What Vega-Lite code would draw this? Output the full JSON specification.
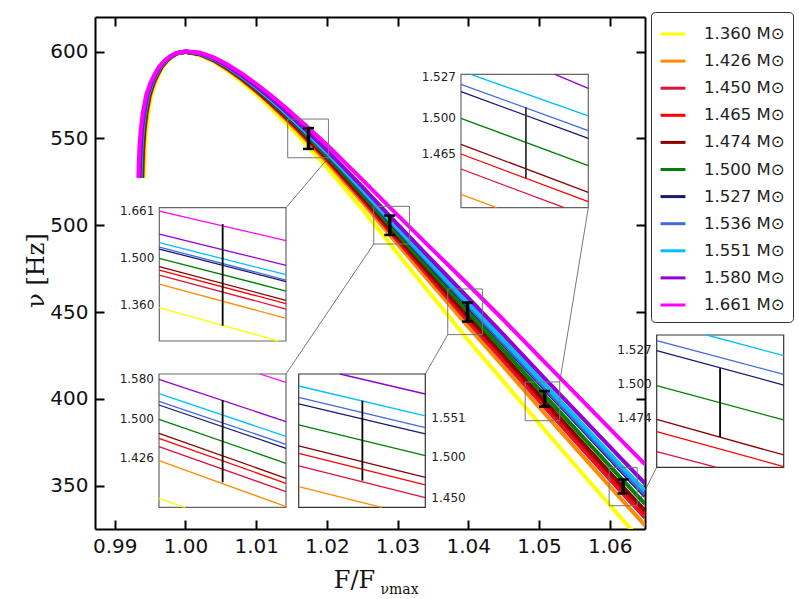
{
"$schema":"https://vega.github.io/schema/vega-lite/v6.json",
"width":550,"height":512,
"autosize":{"type":"none"},
"padding":{"left":95,"top":17,"right":154,"bottom":70},
"background":"white",
"config":{"view":{"stroke":null},"font":"DejaVu Sans",
 "axis":{"grid":false,"domainColor":"black","domainWidth":2,"tickColor":"black","tickWidth":2,"tickSize":-9,"labelFont":"DejaVu Sans","labelFontSize":20,"labelColor":"#111","labelPadding":16,"titleFont":"DejaVu Serif","titleFontWeight":"normal","titleColor":"#111"}},
"datasets":{
"curves":[
{"m":"1.360","x":0.99415,"y":527.4},{"m":"1.360","x":0.9942,"y":535},{"m":"1.360","x":0.99429,"y":545},{"m":"1.360","x":0.99446,"y":555},{"m":"1.360","x":0.99475,"y":565},{"m":"1.360","x":0.99518,"y":575},{"m":"1.360","x":0.99573,"y":582},{"m":"1.360","x":0.99633,"y":587.5},{"m":"1.360","x":0.99686,"y":591.5},{"m":"1.360","x":0.99756,"y":595},{"m":"1.360","x":0.99818,"y":597.3},{"m":"1.360","x":0.99893,"y":599.1},{"m":"1.360","x":1.0,"y":599.75},
{"m":"1.360","x":1.002,"y":598.03},{"m":"1.360","x":1.004,"y":594.22},{"m":"1.360","x":1.006,"y":588.86},{"m":"1.360","x":1.008,"y":582.55},{"m":"1.360","x":1.01,"y":575.54},{"m":"1.360","x":1.012,"y":567.88},{"m":"1.360","x":1.014,"y":559.81},{"m":"1.360","x":1.016,"y":551.3},{"m":"1.360","x":1.018,"y":542.33},{"m":"1.360","x":1.02,"y":533.37},{"m":"1.360","x":1.025,"y":509.33},{"m":"1.360","x":1.0289,"y":489.29},{"m":"1.360","x":1.034,"y":463.74},{"m":"1.360","x":1.0399,"y":434.18},{"m":"1.360","x":1.045,"y":409.89},{"m":"1.360","x":1.0508,"y":382.11},{"m":"1.360","x":1.056,"y":357.58},{"m":"1.360","x":1.0619,"y":330.05},{"m":"1.360","x":1.065,"y":315.78},
{"m":"1.426","x":0.99395,"y":527.4},{"m":"1.426","x":0.994,"y":535},{"m":"1.426","x":0.99409,"y":545},{"m":"1.426","x":0.99426,"y":555},{"m":"1.426","x":0.99456,"y":565},{"m":"1.426","x":0.995,"y":575},{"m":"1.426","x":0.99556,"y":582},{"m":"1.426","x":0.99617,"y":587.5},{"m":"1.426","x":0.99671,"y":591.5},{"m":"1.426","x":0.99743,"y":595},{"m":"1.426","x":0.99809,"y":597.3},{"m":"1.426","x":0.99887,"y":599.1},{"m":"1.426","x":1.0,"y":599.87},
{"m":"1.426","x":1.002,"y":598.4},{"m":"1.426","x":1.004,"y":594.83},{"m":"1.426","x":1.006,"y":589.74},{"m":"1.426","x":1.008,"y":583.72},{"m":"1.426","x":1.01,"y":577.0},{"m":"1.426","x":1.012,"y":569.66},{"m":"1.426","x":1.014,"y":561.91},{"m":"1.426","x":1.016,"y":553.74},{"m":"1.426","x":1.018,"y":545.14},{"m":"1.426","x":1.02,"y":536.54},{"m":"1.426","x":1.025,"y":513.48},{"m":"1.426","x":1.0289,"y":494.41},{"m":"1.426","x":1.034,"y":470.08},{"m":"1.426","x":1.0399,"y":441.99},{"m":"1.426","x":1.045,"y":418.56},{"m":"1.426","x":1.0508,"y":391.63},{"m":"1.426","x":1.056,"y":367.83},{"m":"1.426","x":1.0619,"y":341.03},{"m":"1.426","x":1.065,"y":327.13},
{"m":"1.450","x":0.99387,"y":527.4},{"m":"1.450","x":0.99392,"y":535},{"m":"1.450","x":0.99402,"y":545},{"m":"1.450","x":0.99419,"y":555},{"m":"1.450","x":0.99448,"y":565},{"m":"1.450","x":0.99493,"y":575},{"m":"1.450","x":0.99549,"y":582},{"m":"1.450","x":0.99611,"y":587.5},{"m":"1.450","x":0.99666,"y":591.5},{"m":"1.450","x":0.99739,"y":595},{"m":"1.450","x":0.99805,"y":597.3},{"m":"1.450","x":0.99884,"y":599.1},{"m":"1.450","x":1.0,"y":599.91},
{"m":"1.450","x":1.002,"y":598.54},{"m":"1.450","x":1.004,"y":595.07},{"m":"1.450","x":1.006,"y":590.08},{"m":"1.450","x":1.008,"y":584.17},{"m":"1.450","x":1.01,"y":577.57},{"m":"1.450","x":1.012,"y":570.34},{"m":"1.450","x":1.014,"y":562.72},{"m":"1.450","x":1.016,"y":554.68},{"m":"1.450","x":1.018,"y":546.22},{"m":"1.450","x":1.02,"y":537.76},{"m":"1.450","x":1.025,"y":515.08},{"m":"1.450","x":1.0289,"y":496.39},{"m":"1.450","x":1.034,"y":472.53},{"m":"1.450","x":1.0399,"y":445.0},{"m":"1.450","x":1.045,"y":421.89},{"m":"1.450","x":1.0508,"y":395.29},{"m":"1.450","x":1.056,"y":371.78},{"m":"1.450","x":1.0619,"y":345.26},{"m":"1.450","x":1.065,"y":331.5},
{"m":"1.465","x":0.99383,"y":527.4},{"m":"1.465","x":0.99388,"y":535},{"m":"1.465","x":0.99398,"y":545},{"m":"1.465","x":0.99415,"y":555},{"m":"1.465","x":0.99444,"y":565},{"m":"1.465","x":0.99489,"y":575},{"m":"1.465","x":0.99546,"y":582},{"m":"1.465","x":0.99608,"y":587.5},{"m":"1.465","x":0.99663,"y":591.5},{"m":"1.465","x":0.99736,"y":595},{"m":"1.465","x":0.99803,"y":597.3},{"m":"1.465","x":0.99883,"y":599.1},{"m":"1.465","x":1.0,"y":599.94},
{"m":"1.465","x":1.002,"y":598.62},{"m":"1.465","x":1.004,"y":595.2},{"m":"1.465","x":1.006,"y":590.26},{"m":"1.465","x":1.008,"y":584.42},{"m":"1.465","x":1.01,"y":577.87},{"m":"1.465","x":1.012,"y":570.72},{"m":"1.465","x":1.014,"y":563.16},{"m":"1.465","x":1.016,"y":555.19},{"m":"1.465","x":1.018,"y":546.81},{"m":"1.465","x":1.02,"y":538.43},{"m":"1.465","x":1.025,"y":515.94},{"m":"1.465","x":1.0289,"y":497.46},{"m":"1.465","x":1.034,"y":473.85},{"m":"1.465","x":1.0399,"y":446.63},{"m":"1.465","x":1.045,"y":423.7},{"m":"1.465","x":1.0508,"y":397.28},{"m":"1.465","x":1.056,"y":373.92},{"m":"1.465","x":1.0619,"y":347.55},{"m":"1.465","x":1.065,"y":333.87},
{"m":"1.474","x":0.9938,"y":527.4},{"m":"1.474","x":0.99385,"y":535},{"m":"1.474","x":0.99395,"y":545},{"m":"1.474","x":0.99412,"y":555},{"m":"1.474","x":0.99442,"y":565},{"m":"1.474","x":0.99486,"y":575},{"m":"1.474","x":0.99543,"y":582},{"m":"1.474","x":0.99606,"y":587.5},{"m":"1.474","x":0.99661,"y":591.5},{"m":"1.474","x":0.99734,"y":595},{"m":"1.474","x":0.99801,"y":597.3},{"m":"1.474","x":0.99882,"y":599.1},{"m":"1.474","x":1.0,"y":599.96},
{"m":"1.474","x":1.002,"y":598.67},{"m":"1.474","x":1.004,"y":595.28},{"m":"1.474","x":1.006,"y":590.39},{"m":"1.474","x":1.008,"y":584.59},{"m":"1.474","x":1.01,"y":578.08},{"m":"1.474","x":1.012,"y":570.97},{"m":"1.474","x":1.014,"y":563.46},{"m":"1.474","x":1.016,"y":555.54},{"m":"1.474","x":1.018,"y":547.21},{"m":"1.474","x":1.02,"y":538.88},{"m":"1.474","x":1.025,"y":516.54},{"m":"1.474","x":1.0289,"y":498.19},{"m":"1.474","x":1.034,"y":474.76},{"m":"1.474","x":1.0399,"y":447.75},{"m":"1.474","x":1.045,"y":424.95},{"m":"1.474","x":1.0508,"y":398.65},{"m":"1.474","x":1.056,"y":375.39},{"m":"1.474","x":1.0619,"y":349.13},{"m":"1.474","x":1.065,"y":335.5},
{"m":"1.500","x":0.99373,"y":527.4},{"m":"1.500","x":0.99378,"y":535},{"m":"1.500","x":0.99388,"y":545},{"m":"1.500","x":0.99405,"y":555},{"m":"1.500","x":0.99435,"y":565},{"m":"1.500","x":0.9948,"y":575},{"m":"1.500","x":0.99537,"y":582},{"m":"1.500","x":0.996,"y":587.5},{"m":"1.500","x":0.99656,"y":591.5},{"m":"1.500","x":0.9973,"y":595},{"m":"1.500","x":0.99798,"y":597.3},{"m":"1.500","x":0.9988,"y":599.1},{"m":"1.500","x":1.0,"y":600},
{"m":"1.500","x":1.002,"y":598.8},{"m":"1.500","x":1.004,"y":595.5},{"m":"1.500","x":1.006,"y":590.7},{"m":"1.500","x":1.008,"y":585},{"m":"1.500","x":1.01,"y":578.6},{"m":"1.500","x":1.012,"y":571.6},{"m":"1.500","x":1.014,"y":564.2},{"m":"1.500","x":1.016,"y":556.4},{"m":"1.500","x":1.018,"y":548.2},{"m":"1.500","x":1.02,"y":540},{"m":"1.500","x":1.025,"y":518},{"m":"1.500","x":1.0289,"y":500},{"m":"1.500","x":1.034,"y":477},{"m":"1.500","x":1.0399,"y":450.5},{"m":"1.500","x":1.045,"y":428},{"m":"1.500","x":1.0508,"y":402},{"m":"1.500","x":1.056,"y":379},{"m":"1.500","x":1.0619,"y":353},{"m":"1.500","x":1.065,"y":339.5},
{"m":"1.527","x":0.99365,"y":527.4},{"m":"1.527","x":0.9937,"y":535},{"m":"1.527","x":0.9938,"y":545},{"m":"1.527","x":0.99397,"y":555},{"m":"1.527","x":0.99427,"y":565},{"m":"1.527","x":0.99473,"y":575},{"m":"1.527","x":0.9953,"y":582},{"m":"1.527","x":0.99594,"y":587.5},{"m":"1.527","x":0.9965,"y":591.5},{"m":"1.527","x":0.99725,"y":595},{"m":"1.527","x":0.99794,"y":597.3},{"m":"1.527","x":0.99878,"y":599.1},{"m":"1.527","x":1.0,"y":600.05},
{"m":"1.527","x":1.002,"y":598.95},{"m":"1.527","x":1.004,"y":595.74},{"m":"1.527","x":1.006,"y":591.05},{"m":"1.527","x":1.008,"y":585.47},{"m":"1.527","x":1.01,"y":579.18},{"m":"1.527","x":1.012,"y":572.31},{"m":"1.527","x":1.014,"y":565.03},{"m":"1.527","x":1.016,"y":557.37},{"m":"1.527","x":1.018,"y":549.32},{"m":"1.527","x":1.02,"y":541.26},{"m":"1.527","x":1.025,"y":519.65},{"m":"1.527","x":1.0289,"y":502.04},{"m":"1.527","x":1.034,"y":479.52},{"m":"1.527","x":1.0399,"y":453.6},{"m":"1.527","x":1.045,"y":431.44},{"m":"1.527","x":1.0508,"y":405.78},{"m":"1.527","x":1.056,"y":383.07},{"m":"1.527","x":1.0619,"y":357.37},{"m":"1.527","x":1.065,"y":344.01},
{"m":"1.536","x":0.99363,"y":527.4},{"m":"1.536","x":0.99368,"y":535},{"m":"1.536","x":0.99379,"y":545},{"m":"1.536","x":0.99396,"y":555},{"m":"1.536","x":0.99426,"y":565},{"m":"1.536","x":0.99471,"y":575},{"m":"1.536","x":0.99529,"y":582},{"m":"1.536","x":0.99593,"y":587.5},{"m":"1.536","x":0.99649,"y":591.5},{"m":"1.536","x":0.99724,"y":595},{"m":"1.536","x":0.99793,"y":597.3},{"m":"1.536","x":0.99877,"y":599.1},{"m":"1.536","x":1.0,"y":600.06},
{"m":"1.536","x":1.002,"y":598.98},{"m":"1.536","x":1.004,"y":595.79},{"m":"1.536","x":1.006,"y":591.12},{"m":"1.536","x":1.008,"y":585.56},{"m":"1.536","x":1.01,"y":579.3},{"m":"1.536","x":1.012,"y":572.45},{"m":"1.536","x":1.014,"y":565.21},{"m":"1.536","x":1.016,"y":557.57},{"m":"1.536","x":1.018,"y":549.55},{"m":"1.536","x":1.02,"y":541.52},{"m":"1.536","x":1.025,"y":519.99},{"m":"1.536","x":1.0289,"y":502.46},{"m":"1.536","x":1.034,"y":480.04},{"m":"1.536","x":1.0399,"y":454.24},{"m":"1.536","x":1.045,"y":432.15},{"m":"1.536","x":1.0508,"y":406.56},{"m":"1.536","x":1.056,"y":383.91},{"m":"1.536","x":1.0619,"y":358.27},{"m":"1.536","x":1.065,"y":344.94},
{"m":"1.551","x":0.9936,"y":527.4},{"m":"1.551","x":0.99365,"y":535},{"m":"1.551","x":0.99375,"y":545},{"m":"1.551","x":0.99392,"y":555},{"m":"1.551","x":0.99422,"y":565},{"m":"1.551","x":0.99468,"y":575},{"m":"1.551","x":0.99526,"y":582},{"m":"1.551","x":0.9959,"y":587.5},{"m":"1.551","x":0.99647,"y":591.5},{"m":"1.551","x":0.99722,"y":595},{"m":"1.551","x":0.99792,"y":597.3},{"m":"1.551","x":0.99876,"y":599.1},{"m":"1.551","x":1.0,"y":600.08},
{"m":"1.551","x":1.002,"y":599.04},{"m":"1.551","x":1.004,"y":595.91},{"m":"1.551","x":1.006,"y":591.28},{"m":"1.551","x":1.008,"y":585.78},{"m":"1.551","x":1.01,"y":579.57},{"m":"1.551","x":1.012,"y":572.78},{"m":"1.551","x":1.014,"y":565.59},{"m":"1.551","x":1.016,"y":558.02},{"m":"1.551","x":1.018,"y":550.06},{"m":"1.551","x":1.02,"y":542.11},{"m":"1.551","x":1.025,"y":520.75},{"m":"1.551","x":1.0289,"y":503.4},{"m":"1.551","x":1.034,"y":481.21},{"m":"1.551","x":1.0399,"y":455.68},{"m":"1.551","x":1.045,"y":433.75},{"m":"1.551","x":1.0508,"y":408.32},{"m":"1.551","x":1.056,"y":385.8},{"m":"1.551","x":1.0619,"y":360.29},{"m":"1.551","x":1.065,"y":347.03},
{"m":"1.580","x":0.99352,"y":527.4},{"m":"1.580","x":0.99357,"y":535},{"m":"1.580","x":0.99368,"y":545},{"m":"1.580","x":0.99385,"y":555},{"m":"1.580","x":0.99415,"y":565},{"m":"1.580","x":0.99461,"y":575},{"m":"1.580","x":0.99519,"y":582},{"m":"1.580","x":0.99584,"y":587.5},{"m":"1.580","x":0.99641,"y":591.5},{"m":"1.580","x":0.99717,"y":595},{"m":"1.580","x":0.99788,"y":597.3},{"m":"1.580","x":0.99874,"y":599.1},{"m":"1.580","x":1.0,"y":600.13},
{"m":"1.580","x":1.002,"y":599.18},{"m":"1.580","x":1.004,"y":596.13},{"m":"1.580","x":1.006,"y":591.61},{"m":"1.580","x":1.008,"y":586.21},{"m":"1.580","x":1.01,"y":580.11},{"m":"1.580","x":1.012,"y":573.44},{"m":"1.580","x":1.014,"y":566.37},{"m":"1.580","x":1.016,"y":558.92},{"m":"1.580","x":1.018,"y":551.1},{"m":"1.580","x":1.02,"y":543.28},{"m":"1.580","x":1.025,"y":522.28},{"m":"1.580","x":1.0289,"y":505.29},{"m":"1.580","x":1.034,"y":483.55},{"m":"1.580","x":1.0399,"y":458.56},{"m":"1.580","x":1.045,"y":436.95},{"m":"1.580","x":1.0508,"y":411.83},{"m":"1.580","x":1.056,"y":389.58},{"m":"1.580","x":1.0619,"y":364.34},{"m":"1.580","x":1.065,"y":351.22},
{"m":"1.661","x":0.99333,"y":527.4},{"m":"1.661","x":0.99338,"y":535},{"m":"1.661","x":0.99349,"y":545},{"m":"1.661","x":0.99366,"y":555},{"m":"1.661","x":0.99397,"y":565},{"m":"1.661","x":0.99444,"y":575},{"m":"1.661","x":0.99503,"y":582},{"m":"1.661","x":0.99569,"y":587.5},{"m":"1.661","x":0.99628,"y":591.5},{"m":"1.661","x":0.99706,"y":595},{"m":"1.661","x":0.99778,"y":597.3},{"m":"1.661","x":0.99868,"y":599.1},{"m":"1.661","x":1.0,"y":600.25},
{"m":"1.661","x":1.002,"y":599.54},{"m":"1.661","x":1.004,"y":596.73},{"m":"1.661","x":1.006,"y":592.46},{"m":"1.661","x":1.008,"y":587.35},{"m":"1.661","x":1.01,"y":581.54},{"m":"1.661","x":1.012,"y":575.18},{"m":"1.661","x":1.014,"y":568.41},{"m":"1.661","x":1.016,"y":561.3},{"m":"1.661","x":1.018,"y":553.84},{"m":"1.661","x":1.02,"y":546.37},{"m":"1.661","x":1.025,"y":526.33},{"m":"1.661","x":1.0289,"y":510.29},{"m":"1.661","x":1.034,"y":489.74},{"m":"1.661","x":1.0399,"y":466.18},{"m":"1.661","x":1.045,"y":445.4},{"m":"1.661","x":1.0508,"y":421.11},{"m":"1.661","x":1.056,"y":399.58},{"m":"1.661","x":1.0619,"y":375.05},{"m":"1.661","x":1.065,"y":362.29}
],
"bars":[{"x":1.0174,"lo":544,"hi":556},{"x":1.0289,"lo":494.4,"hi":505.6},{"x":1.0399,"lo":444.5,"hi":455.5},{"x":1.0508,"lo":395.5,"hi":404.5},{"x":1.0619,"lo":345.5,"hi":353.5}],
"boxes":[{"x0":1.01446,"x1":1.02022,"y0":538.9,"y1":561.2},{"x0":1.02663,"x1":1.03168,"y0":489.2,"y1":510.9},{"x0":1.0371,"x1":1.042,"y0":437.0,"y1":463.3},{"x0":1.04805,"x1":1.05294,"y0":387.4,"y1":409.7},{"x0":1.05993,"x1":1.06389,"y0":338.4,"y1":360.5}],
"links":[{"x":1.02022,"y":538.9,"x2":1.01422,"y2":510.12},{"x":1.02663,"y":489.2,"x2":1.01422,"y2":414.31},{"x":1.0371,"y":437.0,"x2":1.03392,"y2":414.31},{"x":1.05294,"y":409.7,"x2":1.05698,"y2":510.12},{"x":1.06389,"y":338.4,"x2":1.06665,"y2":360.55}],
"iseg":[
{"inset":1,"m":"1.661","u0":0,"v0":0.975,"u1":1,"v1":0.7525},{"inset":1,"m":"1.580","u0":0,"v0":0.8025,"u1":1,"v1":0.5675},{"inset":1,"m":"1.551","u0":0,"v0":0.7375,"u1":1,"v1":0.4975},{"inset":1,"m":"1.536","u0":0,"v0":0.705,"u1":1,"v1":0.4575},{"inset":1,"m":"1.527","u0":0,"v0":0.69,"u1":1,"v1":0.445},{"inset":1,"m":"1.500","u0":0,"v0":0.62,"u1":1,"v1":0.375},{"inset":1,"m":"1.474","u0":0,"v0":0.5575,"u1":1,"v1":0.305},{"inset":1,"m":"1.465","u0":0,"v0":0.5325,"u1":1,"v1":0.28},{"inset":1,"m":"1.450","u0":0,"v0":0.495,"u1":1,"v1":0.24},{"inset":1,"m":"1.426","u0":0,"v0":0.4275,"u1":1,"v1":0.17},{"inset":1,"m":"1.360","u0":0,"v0":0.25,"u1":0.9395,"v1":0},
{"inset":2,"m":"1.661","u0":0.795,"v0":1,"u1":1,"v1":0.9375},{"inset":2,"m":"1.580","u0":0,"v0":0.96,"u1":1,"v1":0.6425},{"inset":2,"m":"1.551","u0":0,"v0":0.8525,"u1":1,"v1":0.5325},{"inset":2,"m":"1.536","u0":0,"v0":0.795,"u1":1,"v1":0.4725},{"inset":2,"m":"1.527","u0":0,"v0":0.7675,"u1":1,"v1":0.4425},{"inset":2,"m":"1.500","u0":0,"v0":0.66,"u1":1,"v1":0.33},{"inset":2,"m":"1.474","u0":0,"v0":0.555,"u1":1,"v1":0.2175},{"inset":2,"m":"1.465","u0":0,"v0":0.5175,"u1":1,"v1":0.18},{"inset":2,"m":"1.450","u0":0,"v0":0.455,"u1":1,"v1":0.1175},{"inset":2,"m":"1.426","u0":0,"v0":0.35,"u1":1,"v1":0.005},{"inset":2,"m":"1.360","u0":0,"v0":0.0675,"u1":0.205,"v1":0},
{"inset":3,"m":"1.580","u0":0.326,"v0":1,"u1":1,"v1":0.85},{"inset":3,"m":"1.551","u0":0,"v0":0.91,"u1":1,"v1":0.685},{"inset":3,"m":"1.536","u0":0,"v0":0.825,"u1":1,"v1":0.5975},{"inset":3,"m":"1.527","u0":0,"v0":0.775,"u1":1,"v1":0.55},{"inset":3,"m":"1.500","u0":0,"v0":0.6175,"u1":1,"v1":0.3875},{"inset":3,"m":"1.474","u0":0,"v0":0.46,"u1":1,"v1":0.225},{"inset":3,"m":"1.465","u0":0,"v0":0.405,"u1":1,"v1":0.1675},{"inset":3,"m":"1.450","u0":0,"v0":0.31,"u1":1,"v1":0.0725},{"inset":3,"m":"1.426","u0":0,"v0":0.155,"u1":0.655,"v1":0},
{"inset":4,"m":"1.580","u0":0.738,"v0":1,"u1":1,"v1":0.895},{"inset":4,"m":"1.551","u0":0.076,"v0":1,"u1":1,"v1":0.6875},{"inset":4,"m":"1.536","u0":0,"v0":0.925,"u1":1,"v1":0.5775},{"inset":4,"m":"1.527","u0":0,"v0":0.87,"u1":1,"v1":0.52},{"inset":4,"m":"1.500","u0":0,"v0":0.67,"u1":1,"v1":0.315},{"inset":4,"m":"1.474","u0":0,"v0":0.475,"u1":1,"v1":0.115},{"inset":4,"m":"1.465","u0":0,"v0":0.4025,"u1":1,"v1":0.045},{"inset":4,"m":"1.450","u0":0,"v0":0.29,"u1":0.8115,"v1":0},{"inset":4,"m":"1.426","u0":0,"v0":0.1,"u1":0.28,"v1":0},
{"inset":5,"m":"1.551","u0":0.394,"v0":1,"u1":1,"v1":0.844},{"inset":5,"m":"1.536","u0":0,"v0":0.957,"u1":1,"v1":0.703},{"inset":5,"m":"1.527","u0":0,"v0":0.882,"u1":1,"v1":0.622},{"inset":5,"m":"1.500","u0":0,"v0":0.617,"u1":1,"v1":0.358},{"inset":5,"m":"1.474","u0":0,"v0":0.363,"u1":1,"v1":0.093},{"inset":5,"m":"1.465","u0":0,"v0":0.27,"u1":1,"v1":0.005},{"inset":5,"m":"1.450","u0":0,"v0":0.118,"u1":0.472,"v1":0}
],
"ibar":[{"inset":1,"u":0.5,"lo":0.115,"hi":0.8775},{"inset":2,"u":0.501,"lo":0.1875,"hi":0.805},{"inset":3,"u":0.503,"lo":0.2,"hi":0.8},{"inset":4,"u":0.51,"lo":0.22,"hi":0.7525},{"inset":5,"u":0.499,"lo":0.227,"hi":0.748}],
"ilab":[{"inset":1,"t":"1.661","u":0,"v":0.975},{"inset":1,"t":"1.500","u":0,"v":0.62},{"inset":1,"t":"1.360","u":0,"v":0.27},
{"inset":2,"t":"1.580","u":0,"v":0.96},{"inset":2,"t":"1.500","u":0,"v":0.66},{"inset":2,"t":"1.426","u":0,"v":0.3675},
{"inset":3,"t":"1.551","u":1,"v":0.67},{"inset":3,"t":"1.500","u":1,"v":0.377},{"inset":3,"t":"1.450","u":1,"v":0.07},
{"inset":4,"t":"1.527","u":0,"v":0.98},{"inset":4,"t":"1.500","u":0,"v":0.67},{"inset":4,"t":"1.465","u":0,"v":0.4},
{"inset":5,"t":"1.527","u":0,"v":0.887},{"inset":5,"t":"1.500","u":0,"v":0.63},{"inset":5,"t":"1.474","u":0,"v":0.37}],
"frame":[{"a":0,"b":1}]
},
"layer":[
{"layer":[
 {"data":{"name":"curves"},"mark":{"type":"line","strokeWidth":4,"clip":true},
  "encoding":{
   "x":{"field":"x","type":"quantitative","scale":{"domain":[0.9872,1.065],"nice":false,"zero":false},
     "axis":{"orient":"bottom","values":[0.99,1.0,1.01,1.02,1.03,1.04,1.05,1.06],"format":".2f","title":"F/F","titleFontSize":24,"titleX":259,"titleY":58,"titleAlign":"center","titleBaseline":"alphabetic"}},
   "y":{"field":"y","type":"quantitative","scale":{"domain":[325,620],"nice":false,"zero":false},
     "axis":{"orient":"left","values":[350,400,450,500,550,600],"title":"ν [Hz]","titleFontSize":24,"titleX":-52,"titleY":253,"titleAngle":270,"titleAlign":"center","titleBaseline":"alphabetic"}},
   "color":{"field":"m","type":"nominal",
     "scale":{"domain":["1.360","1.426","1.450","1.465","1.474","1.500","1.527","1.536","1.551","1.580","1.661"],
              "range":["#ffff00","#ff8c00","#dc143c","#ff0000","#8b0000","#008000","#191970","#4169e1","#00bfff","#9400d3","#ff00ff"]},
     "legend":{"orient":"none","legendX":556,"legendY":-5,"title":null,"symbolType":"stroke","symbolStrokeWidth":3,"symbolSize":620,"labelFontSize":16.5,"labelFont":"DejaVu Sans","labelColor":"#222","labelOffset":17,"padding":8,"rowPadding":4.1,"strokeColor":"#333","fillColor":"white","cornerRadius":4,"labelExpr":"datum.label + ' M⊙'"}}
  }},
 {"data":{"name":"boxes"},"mark":{"type":"rect","fillOpacity":0,"stroke":"#777","strokeWidth":1},
  "encoding":{
   "x":{"field":"x0","type":"quantitative","axis":{"orient":"top","labels":false,"title":null,"values":[0.99,1.0,1.01,1.02,1.03,1.04,1.05,1.06]}},
   "x2":{"field":"x1"},
   "y":{"field":"y0","type":"quantitative","axis":{"orient":"right","labels":false,"title":null,"values":[350,400,450,500,550,600]}},
   "y2":{"field":"y1"}}},
 {"data":{"name":"links"},"mark":{"type":"rule","stroke":"#555","strokeWidth":0.8},
  "encoding":{
   "x":{"field":"x","type":"quantitative","axis":{"orient":"bottom","domain":false,"ticks":false,"labels":false,"title":"νmax","titleFontSize":14,"titleX":285,"titleY":64,"titleAlign":"left","titleBaseline":"alphabetic"}},
   "x2":{"field":"x2"},
   "y":{"field":"y","type":"quantitative","axis":null},
   "y2":{"field":"y2"}}},
 {"data":{"name":"bars"},"mark":{"type":"rule","color":"black","strokeWidth":3.5},
  "encoding":{"x":{"field":"x","type":"quantitative","axis":null},"y":{"field":"lo","type":"quantitative","axis":null},"y2":{"field":"hi"}}},
 {"data":{"name":"bars"},"mark":{"type":"tick","orient":"horizontal","color":"black","size":11,"thickness":2.5,"opacity":1},
  "encoding":{"x":{"field":"x","type":"quantitative","axis":null},"y":{"field":"lo","type":"quantitative","axis":null}}},
 {"data":{"name":"bars"},"mark":{"type":"tick","orient":"horizontal","color":"black","size":11,"thickness":2.5,"opacity":1},
  "encoding":{"x":{"field":"x","type":"quantitative","axis":null},"y":{"field":"hi","type":"quantitative","axis":null}}}
 ],
 "resolve":{"axis":{"x":"independent","y":"independent"}}
},
{"layer":[
 {"data":{"name":"frame"},"mark":{"type":"rect","fill":"white","stroke":"#666","strokeWidth":1.2},
  "encoding":{"x":{"field":"a","type":"quantitative","scale":{"domain":[0,1],"range":[64.3,191],"nice":false,"zero":false},"axis":null},"x2":{"field":"b"},
   "y":{"field":"a","type":"quantitative","scale":{"domain":[0,1],"range":[324,190.7],"nice":false,"zero":false},"axis":null},"y2":{"field":"b"}}},
 {"data":{"name":"iseg"},"transform":[{"filter":"datum.inset == 1"}],"mark":{"type":"rule","strokeWidth":1.3},
  "encoding":{"x":{"field":"u0","type":"quantitative","axis":null},"x2":{"field":"u1"},"y":{"field":"v0","type":"quantitative","axis":null},"y2":{"field":"v1"},"color":{"field":"m","type":"nominal","legend":null}}},
 {"data":{"name":"ibar"},"transform":[{"filter":"datum.inset == 1"}],"mark":{"type":"rule","color":"black","strokeWidth":1.8},
  "encoding":{"x":{"field":"u","type":"quantitative","axis":null},"y":{"field":"lo","type":"quantitative","axis":null},"y2":{"field":"hi"}}},
 {"data":{"name":"ilab"},"transform":[{"filter":"datum.inset == 1"}],"mark":{"type":"text","align":"right","dx":-5,"baseline":"middle","fontSize":12,"font":"DejaVu Sans","color":"#222"},
  "encoding":{"x":{"field":"u","type":"quantitative","axis":null},"y":{"field":"v","type":"quantitative","axis":null},"text":{"field":"t"}}}
]},
{"layer":[
 {"data":{"name":"frame"},"mark":{"type":"rect","fill":"white","stroke":"#666","strokeWidth":1.2},
  "encoding":{"x":{"field":"a","type":"quantitative","scale":{"domain":[0,1],"range":[64,191],"nice":false,"zero":false},"axis":null},"x2":{"field":"b"},
   "y":{"field":"a","type":"quantitative","scale":{"domain":[0,1],"range":[490.3,357],"nice":false,"zero":false},"axis":null},"y2":{"field":"b"}}},
 {"data":{"name":"iseg"},"transform":[{"filter":"datum.inset == 2"}],"mark":{"type":"rule","strokeWidth":1.3},
  "encoding":{"x":{"field":"u0","type":"quantitative","axis":null},"x2":{"field":"u1"},"y":{"field":"v0","type":"quantitative","axis":null},"y2":{"field":"v1"},"color":{"field":"m","type":"nominal","legend":null}}},
 {"data":{"name":"ibar"},"transform":[{"filter":"datum.inset == 2"}],"mark":{"type":"rule","color":"black","strokeWidth":1.8},
  "encoding":{"x":{"field":"u","type":"quantitative","axis":null},"y":{"field":"lo","type":"quantitative","axis":null},"y2":{"field":"hi"}}},
 {"data":{"name":"ilab"},"transform":[{"filter":"datum.inset == 2"}],"mark":{"type":"text","align":"right","dx":-5,"baseline":"middle","fontSize":12,"font":"DejaVu Sans","color":"#222"},
  "encoding":{"x":{"field":"u","type":"quantitative","axis":null},"y":{"field":"v","type":"quantitative","axis":null},"text":{"field":"t"}}}
]},
{"layer":[
 {"data":{"name":"frame"},"mark":{"type":"rect","fill":"white","stroke":"#333","strokeWidth":1.2},
  "encoding":{"x":{"field":"a","type":"quantitative","scale":{"domain":[0,1],"range":[203.7,330.3],"nice":false,"zero":false},"axis":null},"x2":{"field":"b"},
   "y":{"field":"a","type":"quantitative","scale":{"domain":[0,1],"range":[490.3,357],"nice":false,"zero":false},"axis":null},"y2":{"field":"b"}}},
 {"data":{"name":"iseg"},"transform":[{"filter":"datum.inset == 3"}],"mark":{"type":"rule","strokeWidth":1.3},
  "encoding":{"x":{"field":"u0","type":"quantitative","axis":null},"x2":{"field":"u1"},"y":{"field":"v0","type":"quantitative","axis":null},"y2":{"field":"v1"},"color":{"field":"m","type":"nominal","legend":null}}},
 {"data":{"name":"ibar"},"transform":[{"filter":"datum.inset == 3"}],"mark":{"type":"rule","color":"black","strokeWidth":1.8},
  "encoding":{"x":{"field":"u","type":"quantitative","axis":null},"y":{"field":"lo","type":"quantitative","axis":null},"y2":{"field":"hi"}}},
 {"data":{"name":"ilab"},"transform":[{"filter":"datum.inset == 3"}],"mark":{"type":"text","align":"left","dx":6,"baseline":"middle","fontSize":12,"font":"DejaVu Sans","color":"#222"},
  "encoding":{"x":{"field":"u","type":"quantitative","axis":null},"y":{"field":"v","type":"quantitative","axis":null},"text":{"field":"t"}}}
]},
{"layer":[
 {"data":{"name":"frame"},"mark":{"type":"rect","fill":"white","stroke":"#666","strokeWidth":1.2},
  "encoding":{"x":{"field":"a","type":"quantitative","scale":{"domain":[0,1],"range":[366,493.3],"nice":false,"zero":false},"axis":null},"x2":{"field":"b"},
   "y":{"field":"a","type":"quantitative","scale":{"domain":[0,1],"range":[190.7,57.3],"nice":false,"zero":false},"axis":null},"y2":{"field":"b"}}},
 {"data":{"name":"iseg"},"transform":[{"filter":"datum.inset == 4"}],"mark":{"type":"rule","strokeWidth":1.3},
  "encoding":{"x":{"field":"u0","type":"quantitative","axis":null},"x2":{"field":"u1"},"y":{"field":"v0","type":"quantitative","axis":null},"y2":{"field":"v1"},"color":{"field":"m","type":"nominal","legend":null}}},
 {"data":{"name":"ibar"},"transform":[{"filter":"datum.inset == 4"}],"mark":{"type":"rule","color":"#333","strokeWidth":1.8},
  "encoding":{"x":{"field":"u","type":"quantitative","axis":null},"y":{"field":"lo","type":"quantitative","axis":null},"y2":{"field":"hi"}}},
 {"data":{"name":"ilab"},"transform":[{"filter":"datum.inset == 4"}],"mark":{"type":"text","align":"right","dx":-5,"baseline":"middle","fontSize":12,"font":"DejaVu Sans","color":"#222"},
  "encoding":{"x":{"field":"u","type":"quantitative","axis":null},"y":{"field":"v","type":"quantitative","axis":null},"text":{"field":"t"}}}
]},
{"layer":[
 {"data":{"name":"frame"},"mark":{"type":"rect","fill":"white","stroke":"#333","strokeWidth":1.2},
  "encoding":{"x":{"field":"a","type":"quantitative","scale":{"domain":[0,1],"range":[561.7,688.7],"nice":false,"zero":false},"axis":null},"x2":{"field":"b"},
   "y":{"field":"a","type":"quantitative","scale":{"domain":[0,1],"range":[450.3,318],"nice":false,"zero":false},"axis":null},"y2":{"field":"b"}}},
 {"data":{"name":"iseg"},"transform":[{"filter":"datum.inset == 5"}],"mark":{"type":"rule","strokeWidth":1.3},
  "encoding":{"x":{"field":"u0","type":"quantitative","axis":null},"x2":{"field":"u1"},"y":{"field":"v0","type":"quantitative","axis":null},"y2":{"field":"v1"},"color":{"field":"m","type":"nominal","legend":null}}},
 {"data":{"name":"ibar"},"transform":[{"filter":"datum.inset == 5"}],"mark":{"type":"rule","color":"black","strokeWidth":1.8},
  "encoding":{"x":{"field":"u","type":"quantitative","axis":null},"y":{"field":"lo","type":"quantitative","axis":null},"y2":{"field":"hi"}}},
 {"data":{"name":"ilab"},"transform":[{"filter":"datum.inset == 5"}],"mark":{"type":"text","align":"right","dx":-5,"baseline":"middle","fontSize":12,"font":"DejaVu Sans","color":"#222"},
  "encoding":{"x":{"field":"u","type":"quantitative","axis":null},"y":{"field":"v","type":"quantitative","axis":null},"text":{"field":"t"}}}
]}
],
"resolve":{"scale":{"x":"independent","y":"independent"}}
}
